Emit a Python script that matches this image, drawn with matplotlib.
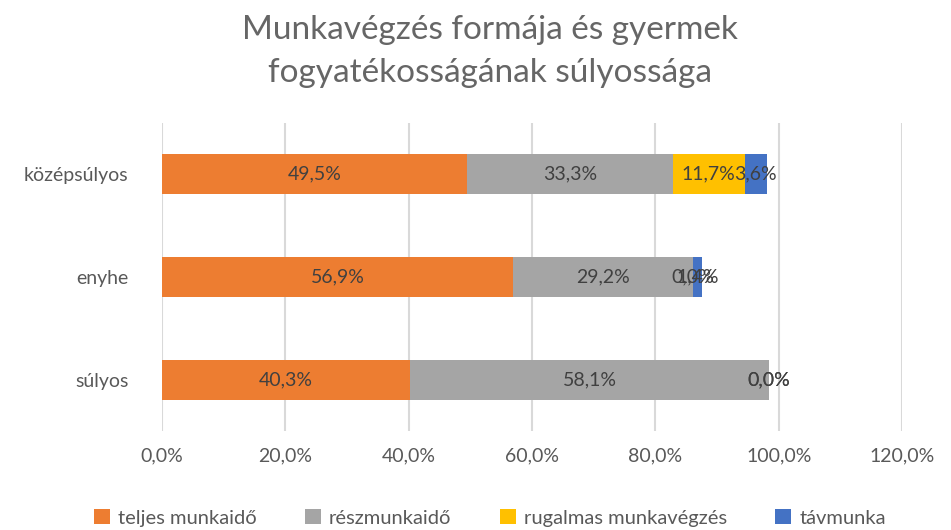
import matplotlib
matplotlib.use('Agg')
import matplotlib.pyplot as plt
import numpy as np

plt.rcParams['font.family'] = ['Lato', 'DejaVu Sans']

categories = ['súlyos', 'enyhe', 'középsúlyos']
series = ['teljes munkaidő', 'részmunkaidő', 'rugalmas munkavégzés', 'távmunka']
values = {
    'teljes munkaidő': [40.3, 56.9, 49.5],
    'részmunkaidő': [58.1, 29.2, 33.3],
    'rugalmas munkavégzés': [0.0, 0.0, 11.7],
    'távmunka': [0.0, 1.4, 3.6],
}
colors = ['#ED7D31', '#A5A5A5', '#FFC000', '#4472C4']
xticks = [0, 20, 40, 60, 80, 100, 120]

text_col = '#595959'

fig = plt.figure(figsize=(9.51, 5.30), dpi=100)
ax = fig.add_axes([0.1703, 0.1868, 0.7782, 0.5811])

y = np.arange(len(categories))
left = np.zeros(len(categories))
for name, col in zip(series, colors):
    vals = np.array(values[name])
    ax.barh(y, vals, left=left, height=0.39, color=col, label=name, zorder=3)
    for yi, l, v in zip(y, left, vals):
        ax.text(l + v / 2, yi, f'{v:.1f}%'.replace('.', ','), ha='center', va='center',
                fontsize=14, color='#404040', zorder=4)
    left = left + vals

ax.set_xlim(0, 120)
ax.set_ylim(-0.5, 2.5)
ax.set_xticks(xticks)
ax.set_xticklabels([f'{t:.1f}%'.replace('.', ',') for t in xticks], fontsize=14, color=text_col)
ax.set_yticks(y)
ax.set_yticklabels(categories, fontsize=14, color=text_col)
ax.tick_params(length=0, pad=12)
ax.tick_params(axis='y', pad=24)
ax.grid(axis='x', color='#D9D9D9', linewidth=1.5, zorder=0)
for s in ax.spines.values():
    s.set_visible(False)

fig.suptitle('Munkavégzés formája és gyermek\nfogyatékosságának súlyossága', x=0.515, y=0.972,
             fontsize=24, color='#666666', linespacing=1.55)

fig.legend(loc='center', bbox_to_anchor=(0.515, 0.023), ncol=4, frameon=False,
           fontsize=14.5, labelcolor=text_col, handlelength=0.8, handleheight=0.8,
           columnspacing=2.4, handletextpad=0.4)

fig.savefig('out.png', dpi=100)
